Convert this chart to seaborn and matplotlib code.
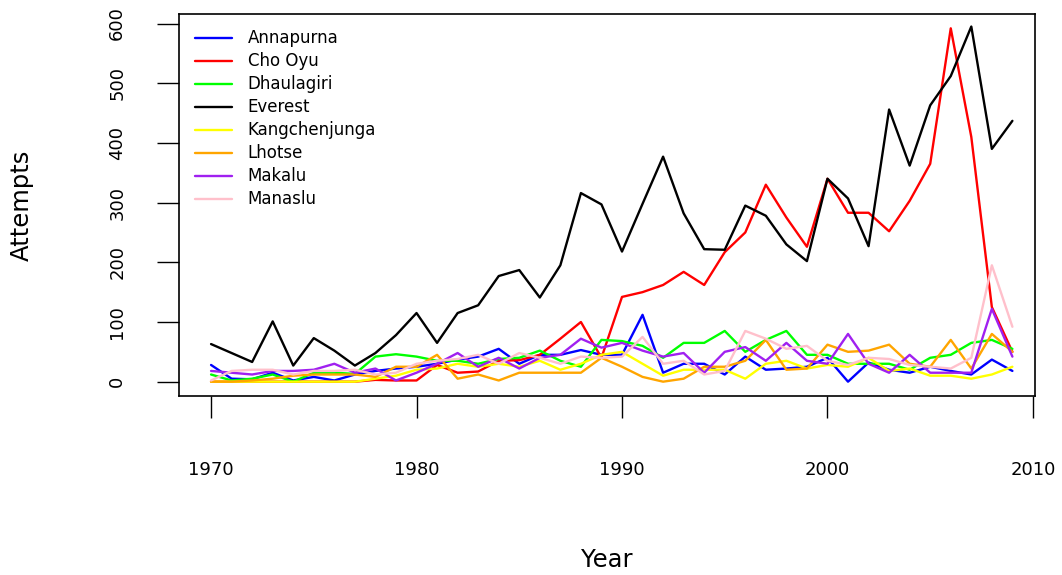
import numpy as np
import pandas as pd
import matplotlib
matplotlib.use("Agg")
import matplotlib.pyplot as plt
import seaborn as sns

years = list(range(1970, 2010))
annapurna = [28, 5, 4, 15, 2, 8, 2, 12, 18, 22, 25, 30, 37, 42, 55, 30, 45, 45, 53, 45,
             45, 112, 15, 30, 30, 12, 42, 20, 22, 25, 40, 0, 32, 20, 15, 25, 18, 12, 37, 18]
cho_oyu = [0, 0, 0, 0, 0, 0, 0, 0, 3, 2, 2, 28, 15, 17, 35, 36, 45, 72, 100, 40,
           142, 150, 162, 184, 162, 217, 250, 330, 275, 226, 340, 283, 283, 252, 303, 365, 592, 410, 125, 50]
dhaulagiri = [12, 2, 5, 12, 0, 15, 15, 13, 42, 46, 42, 35, 35, 30, 38, 40, 52, 35, 25, 70,
              68, 60, 40, 65, 65, 85, 50, 70, 85, 45, 45, 30, 30, 30, 20, 40, 45, 65, 70, 55]
everest = [63, 48, 33, 101, 27, 73, 52, 27, 48, 78, 115, 65, 115, 128, 177, 187, 141, 195, 316, 297,
           218, 298, 377, 282, 222, 221, 295, 278, 230, 202, 340, 307, 227, 456, 362, 463, 512, 595, 390, 437]
kangchenjunga = [0, 0, 0, 0, 0, 0, 0, 0, 5, 10, 20, 22, 30, 25, 30, 25, 35, 20, 30, 45,
                 50, 30, 10, 20, 20, 20, 5, 30, 35, 22, 28, 25, 40, 18, 22, 10, 10, 5, 12, 25]
lhotse = [0, 0, 2, 5, 10, 12, 12, 12, 8, 25, 25, 45, 5, 12, 2, 15, 15, 15, 15, 40,
          25, 8, 0, 5, 25, 25, 35, 70, 20, 22, 62, 50, 52, 62, 30, 25, 70, 22, 80, 50]
makalu = [18, 15, 12, 18, 18, 20, 30, 15, 22, 2, 15, 30, 48, 25, 40, 22, 40, 45, 72, 57,
          65, 52, 42, 48, 15, 50, 58, 35, 65, 35, 30, 80, 30, 15, 45, 15, 15, 15, 122, 42]
manaslu = [2, 18, 20, 20, 12, 18, 18, 20, 12, 15, 30, 35, 38, 45, 30, 48, 40, 30, 42, 40,
           42, 75, 30, 35, 12, 18, 85, 72, 55, 60, 35, 28, 40, 38, 28, 25, 22, 40, 195, 92]

peaks = ["Annapurna", "Cho Oyu", "Dhaulagiri", "Everest", "Kangchenjunga", "Lhotse", "Makalu", "Manaslu"]
series = [annapurna, cho_oyu, dhaulagiri, everest, kangchenjunga, lhotse, makalu, manaslu]
colors = ["#0000FF", "#FF0000", "#00FF00", "#000000", "#FFFF00", "#FFA500", "#A020F0", "#FFC0CB"]
x_ticks = [1970, 1980, 1990, 2000, 2010]
y_ticks = [0, 100, 200, 300, 400, 500, 600]

df = pd.concat([pd.DataFrame({"Year": years, "Attempts": s, "Peak": p}) for p, s in zip(peaks, series)],
               ignore_index=True)

sns.set_theme(style="white")
plt.rcParams["font.family"] = ["DejaVu Sans"]
plt.rcParams.update({"text.color": "black", "axes.labelcolor": "black",
                     "xtick.color": "black", "ytick.color": "black"})

fig = plt.figure(figsize=(10.62, 5.75), dpi=100)
ax = fig.add_axes([179/1062, 1 - 396/575, (1035-179)/1062, (396-14)/575])

sns.lineplot(data=df, x="Year", y="Attempts", hue="Peak", hue_order=peaks,
             palette=dict(zip(peaks, colors)), linewidth=1.7, ax=ax, legend=True)

ax.set_xlim(1968.44, 2010.1)
ax.set_ylim(-24, 616)
ax.set_xticks(x_ticks)
ax.set_yticks(y_ticks)
ax.set_yticklabels([str(v) for v in y_ticks], rotation=90, va="center")
for sp in ax.spines.values():
    sp.set_visible(True)
    sp.set_color("black")
    sp.set_linewidth(1.2)
ax.tick_params(axis="x", direction="out", length=16, width=1, pad=31, labelsize=13,
               color="black", labelcolor="black", bottom=True)
ax.tick_params(axis="y", direction="out", length=16, width=1, pad=22, labelsize=13,
               color="black", labelcolor="black", left=True)
ax.set_xlabel("Year", fontsize=17.5, color="black")
ax.set_ylabel("Attempts", fontsize=17.5, color="black")
ax.xaxis.set_label_coords(0.5, (396 - 560) / 382)
ax.yaxis.set_label_coords((22 - 179) / 856, 0.5)
ax.xaxis.label.set_va("center")
ax.yaxis.label.set_va("center")
ax.grid(False)

leg = ax.legend(loc="upper left", frameon=False, fontsize=12, handlelength=2.2,
                handletextpad=0.95, labelspacing=0.30, borderaxespad=0.0,
                bbox_to_anchor=(8 / 856, 1 - 7 / 382), borderpad=0.5)
for line in leg.get_lines():
    line.set_linewidth(1.7)
for t in leg.get_texts():
    t.set_color("black")

fig.savefig("out.png", dpi=100)
